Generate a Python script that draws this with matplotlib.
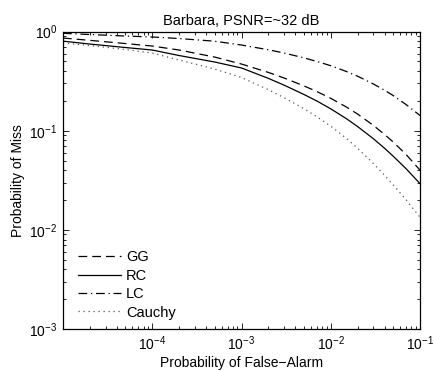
import matplotlib
matplotlib.use("Agg")
import matplotlib.pyplot as plt
from matplotlib.ticker import LogLocator, NullFormatter

plt.rcParams['font.family'] = ['Liberation Sans', 'DejaVu Sans']
plt.rcParams['mathtext.default'] = 'regular'

pfa = [1e-5, 2e-5, 5e-5, 1e-4, 2e-4, 5e-4, 1e-3, 2e-3, 3e-3, 5e-3, 7e-3, 1e-2,
       1.5e-2, 2e-2, 3e-2, 4e-2, 5e-2, 7e-2, 1e-1]
gg = [0.860, 0.815, 0.757, 0.714, 0.651, 0.553, 0.470, 0.387, 0.340, 0.283, 0.248, 0.212,
      0.173, 0.147, 0.113, 0.0916, 0.0769, 0.0573, 0.0399]
rc = [0.80, 0.748, 0.690, 0.651, 0.573, 0.493, 0.429, 0.337, 0.288, 0.232, 0.199, 0.166,
      0.132, 0.110, 0.083, 0.0665, 0.0553, 0.0412, 0.0292]
lc = [0.96, 0.933, 0.901, 0.881, 0.850, 0.799, 0.731, 0.655, 0.607, 0.543, 0.499, 0.452,
      0.395, 0.354, 0.296, 0.256, 0.226, 0.183, 0.142]
cauchy = [0.766, 0.723, 0.659, 0.607, 0.516, 0.419, 0.344, 0.259, 0.215, 0.167, 0.138, 0.111,
          0.0834, 0.0664, 0.0467, 0.0355, 0.0284, 0.0200, 0.0134]

title = "Barbara, PSNR=~32 dB"
xlabel = "Probability of False\u2212Alarm"
ylabel = "Probability of Miss"
xticks = [1e-4, 1e-3, 1e-2, 1e-1]
xticklabels = ["$10^{-4}$", "$10^{-3}$", "$10^{-2}$", "$10^{-1}$"]
yticks = [1e-3, 1e-2, 1e-1, 1e0]
yticklabels = ["$10^{-3}$", "$10^{-2}$", "$10^{-1}$", "$10^{0}$"]

fig = plt.figure(figsize=(4.34, 3.71), dpi=100)
ax = fig.add_axes([0.145, 0.113, 0.823, 0.802])

lw = 0.9
ax.plot(pfa, gg, color='black', linestyle=(0, (7, 4)), linewidth=lw, label='GG')
ax.plot(pfa, rc, color='black', linestyle='-', linewidth=lw, label='RC')
ax.plot(pfa, lc, color='black', linestyle=(0, (7, 3, 1, 3)), linewidth=lw, label='LC')
ax.plot(pfa, cauchy, color='#555555', linestyle=(0, (1, 3)), linewidth=lw, label='Cauchy')

ax.set_xscale('log')
ax.set_yscale('log')
ax.set_xlim(1e-5, 1e-1)
ax.set_ylim(1e-3, 1e0)
ax.set_xticks(xticks)
ax.set_xticklabels(xticklabels)
ax.set_yticks(yticks)
ax.set_yticklabels(yticklabels)
ax.xaxis.set_minor_locator(LogLocator(base=10, subs=range(2, 10), numticks=20))
ax.yaxis.set_minor_locator(LogLocator(base=10, subs=range(2, 10), numticks=20))
ax.xaxis.set_minor_formatter(NullFormatter())
ax.yaxis.set_minor_formatter(NullFormatter())
ax.tick_params(which='both', direction='in', top=True, right=True, labelsize=10, width=0.6)
ax.tick_params(which='major', length=4, pad=4)
ax.tick_params(which='minor', length=2)
for s in ax.spines.values():
    s.set_linewidth(0.9)

ax.set_title(title, fontsize=10.5, pad=5)
ax.set_xlabel(xlabel, fontsize=10, labelpad=2)
ax.set_ylabel(ylabel, fontsize=10, labelpad=3)

leg = ax.legend(loc='lower left', bbox_to_anchor=(0.017, 0.0), frameon=False,
                fontsize=10.5, handlelength=2.9, handletextpad=0.35,
                labelspacing=0.3, borderaxespad=0.25)

fig.savefig('out.png', dpi=100)
